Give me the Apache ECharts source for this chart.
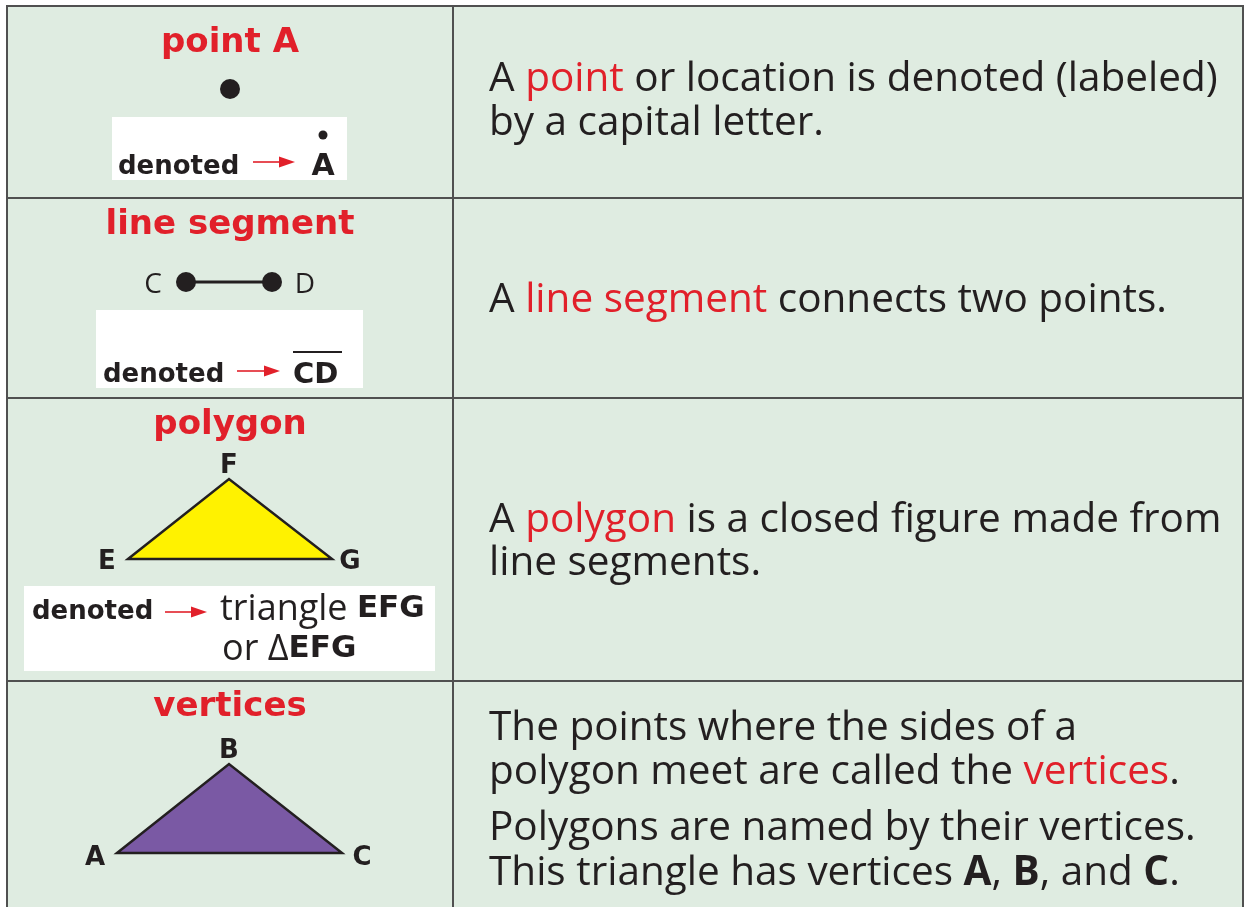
<!DOCTYPE html>
<html>
<head>
<meta charset="utf-8">
<script src="https://cdn.jsdelivr.net/npm/echarts@6/dist/echarts.min.js"></script>
<style>
  html, body { margin: 0; padding: 0; background: #fff; }
  #chart { width: 1247px; height: 907px; }
</style>
</head>
<body>
<div id="chart"></div>
<script>
// table layout (diagram units = pixels of the sheet)
const colEdges = [7, 453, 1243];
const rowEdges = [6, 198, 398, 681, 930];

// left column
const titles = ['point A', 'line segment', 'polygon', 'vertices'];
const titleBaselines = [51, 233, 433, 715];

const whiteBoxes = [[112, 117, 347, 180], [96, 310, 363, 388], [24, 586, 435, 671]];
const arrows = [[253, 295, 162], [237, 280, 371], [165, 207, 612]]; // x0, x1, y
const denotedAt = [[118, 173], [103, 381], [32, 618]];

const pointDot = [[230, 89]];
const smallDot = [[323, 135]];
const segmentCD = [[186, 282], [272, 282]];
const segmentLabels = [['C', 153, 282], ['D', 305, 282]];

const triEFG = [[128, 559], [229, 479], [332, 559]];
const triABC = [[117, 853], [229, 764], [342, 853]];
const vertexLabels = [
  ['F', 229, 462], ['E', 107, 558], ['G', 350, 558],
  ['B', 229, 747], ['A', 95, 854], ['C', 362, 854]
];

// right column
const descLines = [
  'A {r|point} or location is denoted (labeled)',
  'by a capital letter.',
  'A {r|line segment} connects two points.',
  'A {r|polygon} is a closed figure made from',
  'line segments.',
  'The points where the sides of a',
  'polygon meet are called the {r|vertices}.',
  'Polygons are named by their vertices.',
  'This triangle has vertices {b|A}, {b|B}, and {b|C}.'
];
const descBaselines = [89, 133, 310, 530, 573, 738, 782, 838, 883];
const descX = 489;

const RED = '#e1202a';
const INK = '#231f20';
const BG = '#dfece1';
const LINE = '#505050';
const BODY = "40.5px 'Open Sans'";
const BOLD = "bold 34px 'DejaVu Sans'";

const chart = echarts.init(document.getElementById('chart'), null, { renderer: 'canvas' });

// text helper: y given as baseline, zrender draws with middle baseline
function textEl(api, x, baseline, text, font, size, fill, align, rich) {
  const p = api.coord([x, baseline - size * 0.24]);
  return {
    type: 'text', x: p[0], y: p[1],
    style: { text: text, font: font, fill: fill, align: align || 'left', verticalAlign: 'middle', rich: rich }
  };
}

const cells = [];
for (let r = 0; r < rowEdges.length - 1; r++) {
  for (let c = 0; c < colEdges.length - 1; c++) {
    cells.push([colEdges[c], rowEdges[r], colEdges[c + 1], rowEdges[r + 1]]);
  }
}

function rectItem(list, fill, stroke, lw) {
  return function (params, api) {
    const b = list[params.dataIndex];
    const p0 = api.coord([b[0], b[1]]);
    const p1 = api.coord([b[2], b[3]]);
    return {
      type: 'rect',
      shape: { x: p0[0], y: p0[1], width: p1[0] - p0[0], height: p1[1] - p0[1] },
      style: { fill: fill, stroke: stroke, lineWidth: lw || 0 }
    };
  };
}

function triItem(list, fill) {
  return function (params, api) {
    return {
      type: 'polygon',
      shape: { points: list.map(function (p) { return api.coord(p); }) },
      style: { fill: fill, stroke: INK, lineWidth: 2.5, lineJoin: 'miter' }
    };
  };
}

const option = {
  animation: false,
  backgroundColor: '#ffffff',
  grid: { left: 0, right: 0, top: 0, bottom: 0 },
  xAxis: { type: 'value', min: 0, max: 1247, show: false },
  yAxis: { type: 'value', min: 0, max: 907, inverse: true, show: false },
  series: [
    {
      type: 'custom', name: 'cells', data: cells.map(function (c) { return [c[0], c[1]]; }),
      clip: false,
      renderItem: rectItem(cells, BG, LINE, 2)
    },
    {
      type: 'custom', name: 'boxes', data: whiteBoxes.map(function (b) { return [b[0], b[1]]; }),
      renderItem: rectItem(whiteBoxes, '#ffffff', null, 0)
    },
    {
      type: 'custom', name: 'arrows', data: arrows.map(function (a) { return [a[0], a[2]]; }),
      renderItem: function (params, api) {
        const a = arrows[params.dataIndex];
        const s = api.coord([a[0], a[2]]);
        const e = api.coord([a[1], a[2]]);
        return {
          type: 'group',
          children: [
            { type: 'line', shape: { x1: s[0], y1: s[1], x2: e[0] - 14, y2: e[1] }, style: { stroke: RED, lineWidth: 1.6 } },
            { type: 'polygon', shape: { points: [[e[0] - 16, e[1] - 5.5], [e[0], e[1]], [e[0] - 16, e[1] + 5.5]] }, style: { fill: RED } }
          ]
        };
      }
    },
    {
      type: 'custom', name: 'EFG', data: [triEFG[0]],
      renderItem: triItem(triEFG, '#fff200')
    },
    {
      type: 'custom', name: 'ABC', data: [triABC[0]],
      renderItem: triItem(triABC, '#7a59a4')
    },
    {
      type: 'line', name: 'CD', data: segmentCD,
      symbol: 'circle', symbolSize: 20,
      itemStyle: { color: INK, opacity: 1 },
      lineStyle: { color: INK, width: 3 }
    },
    {
      type: 'scatter', name: 'point', data: pointDot,
      symbolSize: 20, itemStyle: { color: INK, opacity: 1 }
    },
    {
      type: 'scatter', name: 'dotA', data: smallDot,
      symbolSize: 9, itemStyle: { color: INK, opacity: 1 }
    },
    {
      type: 'custom', name: 'overline', data: [[293, 352]],
      renderItem: function (params, api) {
        const s = api.coord([293, 352]);
        const e = api.coord([342, 352]);
        return { type: 'line', shape: { x1: s[0], y1: s[1], x2: e[0], y2: e[1] }, style: { stroke: INK, lineWidth: 2 } };
      }
    },
    {
      type: 'custom', name: 'titles', data: titles.map(function (t, i) { return [230, titleBaselines[i]]; }),
      renderItem: function (params, api) {
        const i = params.dataIndex;
        return textEl(api, 230, titleBaselines[i], titles[i], BOLD, 34, RED, 'center');
      }
    },
    {
      type: 'custom', name: 'denoted', data: denotedAt,
      renderItem: function (params, api) {
        const d = denotedAt[params.dataIndex];
        return textEl(api, d[0], d[1], 'denoted', "bold 26px 'DejaVu Sans'", 26, INK, 'left');
      }
    },
    {
      type: 'custom', name: 'notation', data: [[323, 173], [293, 382], [220, 618], [222, 658]],
      renderItem: function (params, api) {
        const i = params.dataIndex;
        const richB = { b: { font: "bold 31px 'DejaVu Sans'", fill: INK } };
        if (i === 0) return textEl(api, 323, 174, 'A', "bold 30px 'DejaVu Sans'", 30, INK, 'center');
        if (i === 1) return textEl(api, 293, 382, 'CD', "bold 29px 'DejaVu Sans'", 29, INK, 'left');
        if (i === 2) return textEl(api, 220, 618, 'triangle {b|EFG}', "36px 'Open Sans'", 36, INK, 'left', richB);
        return textEl(api, 222, 658, 'or \u0394{b|EFG}', "36px 'Open Sans'", 36, INK, 'left', richB);
      }
    },
    {
      type: 'custom', name: 'segLabels', data: segmentLabels.map(function (l) { return [l[1], l[2]]; }),
      renderItem: function (params, api) {
        const l = segmentLabels[params.dataIndex];
        return textEl(api, l[1], l[2] + 10, l[0], "28px 'Open Sans'", 28, INK, 'center');
      }
    },
    {
      type: 'custom', name: 'vertexLabels', data: vertexLabels.map(function (l) { return [l[1], l[2]]; }),
      renderItem: function (params, api) {
        const l = vertexLabels[params.dataIndex];
        return textEl(api, l[1], l[2] + 10, l[0], "bold 26px 'DejaVu Sans'", 26, INK, 'center');
      }
    },
    {
      type: 'custom', name: 'desc', data: descLines.map(function (t, i) { return [descX, descBaselines[i]]; }),
      renderItem: function (params, api) {
        const i = params.dataIndex;
        return textEl(api, descX, descBaselines[i], descLines[i], BODY, 40.5, INK, 'left', {
          r: { font: BODY, fill: RED },
          b: { font: "bold 40.5px 'Open Sans'", fill: INK }
        });
      }
    }
  ]
};

chart.setOption(option);
</script>
</body>
</html>
